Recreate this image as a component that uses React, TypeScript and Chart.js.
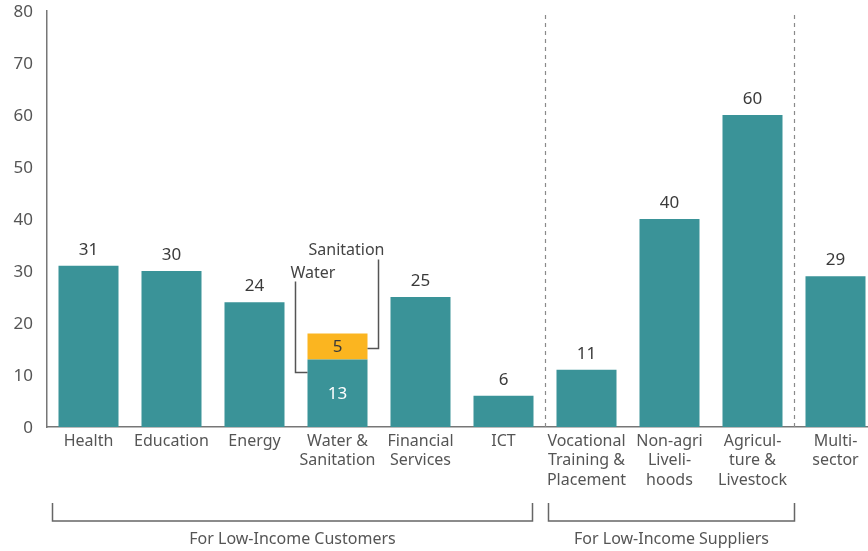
import React, { useEffect, useRef } from "react";
import { Chart, registerables } from "chart.js";

Chart.register(...registerables);

const categories: string[][] = [
  ["Health"],
  ["Education"],
  ["Energy"],
  ["Water &", "Sanitation"],
  ["Financial", "Services"],
  ["ICT"],
  ["Vocational", "Training &", "Placement"],
  ["Non-agri", "Liveli-", "hoods"],
  ["Agricul-", "ture &", "Livestock"],
  ["Multi-", "sector"],
];
const mainValues = [31, 30, 24, 13, 25, 6, 11, 40, 60, 29];
const sanitationValues: (number | null)[] = [null, null, null, 5, null, null, null, null, null, null];
const stackedIndex = 3;
const separatorsAfter = [5, 8];
const groupLabels = ["For Low-Income Customers", "For Low-Income Suppliers"];
const groupRanges = [
  [0, 5],
  [6, 8],
];
const annotationLabels = ["Water", "Sanitation"];

const TEAL = "#3a9398";
const ORANGE = "#fbb520";
const FONT = "'Noto Sans', sans-serif";
const TEXT = "#555555";

const overlayPlugin = {
  id: "overlay",
  afterDatasetsDraw(chart: any) {
    const ctx = chart.ctx;
    const area = chart.chartArea;
    const xs = chart.scales.x;
    const m0 = chart.getDatasetMeta(0);
    const m1 = chart.getDatasetMeta(1);
    const boundary = (i: number) => (xs.getPixelForValue(i) + xs.getPixelForValue(i + 1)) / 2;
    ctx.save();

    // dashed separators
    ctx.strokeStyle = "#8a8a8a";
    ctx.lineWidth = 1.2;
    ctx.setLineDash([4, 4]);
    separatorsAfter.forEach((i) => {
      const x = Math.round(boundary(i)) + 0.5;
      ctx.beginPath();
      ctx.moveTo(x, area.top + 4);
      ctx.lineTo(x, area.bottom);
      ctx.stroke();
    });
    ctx.setLineDash([]);

    // value labels
    ctx.textAlign = "center";
    ctx.textBaseline = "middle";
    ctx.font = `17px ${FONT}`;
    mainValues.forEach((v, i) => {
      const el = m0.data[i];
      if (i === stackedIndex) {
        ctx.fillStyle = "#ffffff";
        ctx.fillText(String(v), el.x, (el.y + el.base) / 2 + 1);
      } else {
        ctx.fillStyle = "#3a3a3a";
        ctx.fillText(String(v), el.x, el.y - 16);
      }
    });
    sanitationValues.forEach((v, i) => {
      if (v == null) return;
      const el = m1.data[i];
      ctx.fillStyle = "#3a3a3a";
      ctx.fillText(String(v), el.x, (el.y + el.base) / 2 + 1);
    });

    // annotations for stacked bar
    const wEl = m0.data[stackedIndex];
    const sEl = m1.data[stackedIndex];
    const half = wEl.width / 2;
    ctx.strokeStyle = "#555555";
    ctx.lineWidth = 1.5;
    // Water
    const wx = wEl.x - half - 12;
    const wy = wEl.y + 13;
    ctx.beginPath();
    ctx.moveTo(wEl.x - half, wy);
    ctx.lineTo(wx, wy);
    ctx.lineTo(wx, wy - 91);
    ctx.stroke();
    ctx.fillStyle = "#444444";
    ctx.font = `16px ${FONT}`;
    ctx.textAlign = "left";
    ctx.fillText(annotationLabels[0], wx - 5, wy - 99);
    // Sanitation
    const sx = sEl.x + half + 11;
    const sy = sEl.base - 11;
    ctx.beginPath();
    ctx.moveTo(sEl.x + half, sy);
    ctx.lineTo(sx, sy);
    ctx.lineTo(sx, sy - 89);
    ctx.stroke();
    ctx.textAlign = "center";
    ctx.fillText(annotationLabels[1], sEl.x + 9, sy - 98);

    // group brackets
    const bTop = area.bottom + 76;
    const bBot = area.bottom + 94;
    const offsets = [
      [5, -13],
      [3, 0],
    ];
    ctx.strokeStyle = "#666666";
    ctx.lineWidth = 1.5;
    ctx.fillStyle = TEXT;
    ctx.font = `16px ${FONT}`;
    groupRanges.forEach((r, g) => {
      const left = Math.round(boundary(r[0] - 1) + offsets[g][0]) + 0.5;
      const right = Math.round(boundary(r[1]) + offsets[g][1]) + 0.5;
      ctx.beginPath();
      ctx.moveTo(left, bTop);
      ctx.lineTo(left, bBot);
      ctx.lineTo(right, bBot);
      ctx.lineTo(right, bTop);
      ctx.stroke();
      ctx.textAlign = "center";
      ctx.fillText(groupLabels[g], (left + right) / 2, area.bottom + 112);
    });
    ctx.restore();
  },
};

export default function App() {
  const ref = useRef<HTMLCanvasElement | null>(null);
  useEffect(() => {
    if (!ref.current) return;
    const chart = new Chart(ref.current, {
      type: "bar",
      data: {
        labels: categories,
        datasets: [
          {
            label: "Water",
            data: mainValues,
            backgroundColor: TEAL,
            categoryPercentage: 1,
            barPercentage: 0.723,
          },
          {
            label: "Sanitation",
            data: sanitationValues,
            backgroundColor: ORANGE,
            categoryPercentage: 1,
            barPercentage: 0.723,
          },
        ],
      },
      options: {
        animation: false,
        responsive: false,
        devicePixelRatio: 1,
        layout: { padding: { top: 11, right: 13, left: 0, bottom: 0 } },
        plugins: { legend: { display: false }, tooltip: { enabled: false }, title: { display: false } },
        scales: {
          x: {
            stacked: true,
            grid: { display: false, drawTicks: false },
            border: { display: true, color: "#777777", width: 1.5 },
            ticks: {
              color: TEXT,
              font: { family: FONT, size: 16, lineHeight: 1.2 },
              padding: 5,
              maxRotation: 0,
              autoSkip: false,
            },
            afterFit: (s: any) => {
              s.height = 124;
              s.paddingLeft = 0;
              s.paddingRight = 0;
            },
          },
          y: {
            stacked: true,
            min: 0,
            max: 80,
            grid: { display: false, drawTicks: false },
            border: { display: true, color: "#777777", width: 1.5 },
            ticks: {
              stepSize: 10,
              color: TEXT,
              font: { family: FONT, size: 17 },
              padding: 14,
              labelOffset: 1,
            },
            afterFit: (s: any) => {
              s.width = 47;
              s.paddingTop = 0;
              s.paddingBottom = 0;
            },
          },
        },
      },
      plugins: [overlayPlugin],
    });
    return () => chart.destroy();
  }, []);
  return (
    <div style={{ position: "absolute", left: 0, top: 0, width: 868, height: 551, overflow: "hidden", background: "#fff" }}>
      <canvas ref={ref} width={890} height={551} style={{ width: 890, height: 551, display: "block" }} />
    </div>
  );
}
